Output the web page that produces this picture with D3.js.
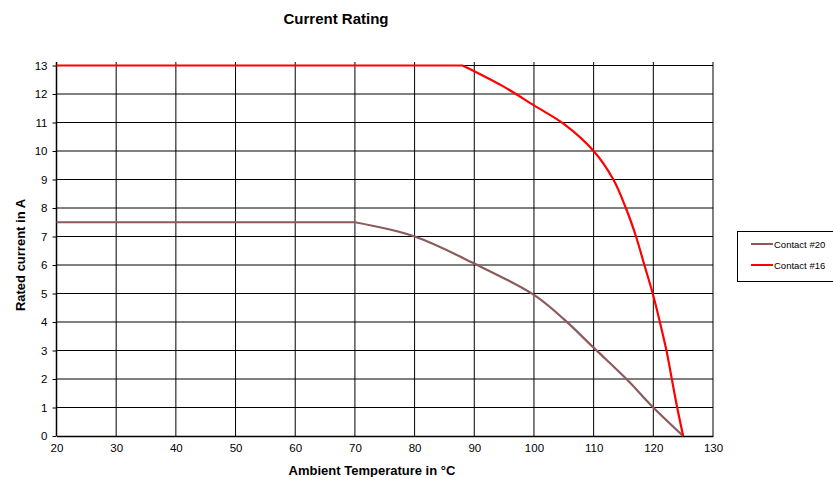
<!DOCTYPE html>
<html>
<head>
<meta charset="utf-8">
<script src="https://cdn.jsdelivr.net/npm/d3@7"></script>
<style>
body { margin: 0; background: #fff; }
text { font-family: "Liberation Sans", Arial, sans-serif; }
</style>
</head>
<body>
<script>
// values
const xTicks = [20, 30, 40, 50, 60, 70, 80, 90, 100, 110, 120, 130];
const yTicks = [0, 1, 2, 3, 4, 5, 6, 7, 8, 9, 10, 11, 12, 13];

const contact20Temp = [20, 70, 80, 90, 100, 105, 110, 115.5, 120, 125];
const contact20Amp  = [7.5, 7.5, 7.0, 6.05, 4.95, 4.1, 3.1, 2.0, 1.0, 0];

const contact16Temp = [20, 88, 90, 95, 100, 105, 110, 113.3, 115.4, 117.1, 118.5, 119.9, 121.1, 122.2, 123.1, 124, 125];
const contact16Amp  = [13, 13, 12.8, 12.25, 11.6, 10.95, 10.0, 9, 8, 7, 6, 5, 4, 3, 2, 1, 0];

const seriesNames = ["Contact #20", "Contact #16"];
const seriesColors = ["#8c5a5a", "#ff0000"];

const W = 833, H = 477;
const svg = d3.select("body").append("svg")
    .attr("width", W)
    .attr("height", H);

const x = d3.scaleLinear().domain([20, 130]).range([56.5, 713]);
const y = d3.scaleLinear().domain([0, 13]).range([436, 65.5]);

// grid
svg.append("g").selectAll("line")
    .data(yTicks.slice(1))
    .enter().append("line")
    .attr("x1", x(20)).attr("x2", x(130))
    .attr("y1", d => y(d)).attr("y2", d => y(d))
    .attr("stroke", "#000").attr("stroke-width", 1);

svg.append("g").selectAll("line")
    .data(xTicks.slice(1))
    .enter().append("line")
    .attr("x1", d => x(d)).attr("x2", d => x(d))
    .attr("y1", 62).attr("y2", y(0))
    .attr("stroke", "#000").attr("stroke-width", 1);

// axes
const yAxis = svg.append("g")
    .attr("transform", `translate(${x(20)},0)`)
    .call(d3.axisLeft(y).tickValues(yTicks).tickSize(4).tickPadding(5));
const xAxis = svg.append("g")
    .attr("transform", `translate(0,${y(0)})`)
    .call(d3.axisBottom(x).tickValues(xTicks).tickSize(0).tickPadding(8));

[yAxis, xAxis].forEach(g => {
    g.select(".domain").attr("stroke", "#000").attr("stroke-width", 1.5);
    g.selectAll(".tick line").attr("stroke", "#000");
    g.selectAll("text")
        .attr("fill", "#000")
        .style("font-family", "Liberation Sans, Arial, sans-serif")
        .style("font-size", "11.5px");
});
yAxis.select(".domain").attr("d", `M0,${y(0)}V62`);

// series: flat part straight, derating part smoothed
const flatLine = d3.line()
    .x(d => x(d[0]))
    .y(d => y(d[1]));
const smoothLine = d3.line()
    .x(d => x(d[0]))
    .y(d => y(d[1]))
    .curve(d3.curveCatmullRom.alpha(0.5));

const series = [
    d3.zip(contact20Temp, contact20Amp),
    d3.zip(contact16Temp, contact16Amp)
];

svg.selectAll("path.series")
    .data(series)
    .enter().append("path")
    .attr("class", "series")
    .attr("d", pts => flatLine(pts.slice(0, 2)) + smoothLine(pts.slice(1)).replace(/^M/, "L"))
    .attr("fill", "none")
    .attr("stroke", (d, i) => seriesColors[i])
    .attr("stroke-width", 2.2)
    .attr("stroke-linejoin", "round");

// titles
svg.append("text")
    .attr("x", 336).attr("y", 24)
    .attr("text-anchor", "middle")
    .style("font-size", "15px").style("font-weight", "bold")
    .text("Current Rating");

svg.append("text")
    .attr("x", 372).attr("y", 475)
    .attr("text-anchor", "middle")
    .style("font-size", "13px").style("font-weight", "bold")
    .text("Ambient Temperature in °C");

svg.append("text")
    .attr("transform", `translate(25,255) rotate(-90)`)
    .attr("text-anchor", "middle")
    .style("font-size", "13px").style("font-weight", "bold")
    .text("Rated current in A");

// legend
const legend = svg.append("g").attr("transform", "translate(737,231)");
legend.append("rect")
    .attr("x", 0.5).attr("y", 0.5)
    .attr("width", 100).attr("height", 50)
    .attr("fill", "#fff").attr("stroke", "#000").attr("stroke-width", 1);

const items = legend.selectAll("g.item")
    .data(seriesNames)
    .enter().append("g")
    .attr("class", "item")
    .attr("transform", (d, i) => `translate(0,${13 + i * 21})`);
items.append("line")
    .attr("x1", 14).attr("x2", 36)
    .attr("stroke", (d, i) => seriesColors[i])
    .attr("stroke-width", 2);
items.append("text")
    .attr("x", 37).attr("y", 3.5)
    .style("font-size", "9.5px")
    .text(d => d);
</script>
</body>
</html>
